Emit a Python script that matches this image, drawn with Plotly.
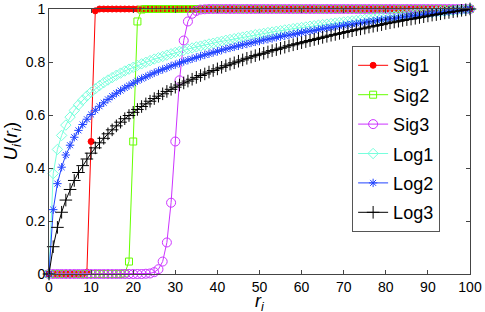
import plotly.graph_objects as go

r = list(range(0, 101))

sig1 = [0.0]*9 + [0.007, 0.5, 0.993] + [1.0]*89
sig2 = [0.0]*18 + [0.002, 0.047, 0.5, 0.953, 0.998] + [1.0]*78
sig3 = [0.0]*23 + [0.001, 0.002, 0.007, 0.018, 0.047, 0.119, 0.269, 0.5, 0.731,
                   0.881, 0.953, 0.982, 0.993, 0.998, 0.999] + [1.0]*63

log1 = [0.0, 0.379, 0.470, 0.523, 0.562, 0.592, 0.617, 0.638, 0.656, 0.672,
        0.686, 0.699, 0.711, 0.722, 0.732, 0.741, 0.750, 0.758, 0.766, 0.773,
        0.780, 0.787, 0.793, 0.799, 0.805, 0.811, 0.816, 0.821, 0.826, 0.831,
        0.836, 0.840, 0.844, 0.849, 0.853, 0.857, 0.860, 0.864, 0.868, 0.871,
        0.875, 0.878, 0.882, 0.885, 0.888, 0.891, 0.894, 0.897, 0.900, 0.903,
        0.905, 0.908, 0.911, 0.913, 0.916, 0.918, 0.921, 0.923, 0.926, 0.928,
        0.930, 0.932, 0.935, 0.937, 0.939, 0.941, 0.943, 0.945, 0.947, 0.949,
        0.951, 0.953, 0.955, 0.957, 0.959, 0.961, 0.963, 0.964, 0.966, 0.968,
        0.970, 0.971, 0.973, 0.975, 0.976, 0.978, 0.979, 0.981, 0.983, 0.984,
        0.986, 0.987, 0.989, 0.990, 0.992, 0.993, 0.994, 0.996, 0.997, 0.999,
        1.000]
log2 = [0.0, 0.243, 0.341, 0.403, 0.449, 0.486, 0.516, 0.542, 0.564, 0.584,
        0.602, 0.618, 0.633, 0.646, 0.659, 0.671, 0.682, 0.692, 0.702, 0.711,
        0.720, 0.729, 0.737, 0.744, 0.752, 0.759, 0.766, 0.772, 0.778, 0.785,
        0.790, 0.796, 0.802, 0.807, 0.812, 0.817, 0.822, 0.827, 0.831, 0.836,
        0.840, 0.845, 0.849, 0.853, 0.857, 0.861, 0.865, 0.868, 0.872, 0.876,
        0.879, 0.883, 0.886, 0.889, 0.893, 0.896, 0.899, 0.902, 0.905, 0.908,
        0.911, 0.914, 0.917, 0.919, 0.922, 0.925, 0.928, 0.930, 0.933, 0.935,
        0.938, 0.940, 0.943, 0.945, 0.947, 0.950, 0.952, 0.954, 0.957, 0.959,
        0.961, 0.963, 0.965, 0.967, 0.970, 0.972, 0.974, 0.976, 0.978, 0.980,
        0.982, 0.984, 0.985, 0.987, 0.989, 0.991, 0.993, 0.995, 0.996, 0.998,
        1.000]
log3 = [0.0, 0.103, 0.176, 0.233, 0.279, 0.319, 0.353, 0.383, 0.409, 0.434,
        0.456, 0.476, 0.495, 0.512, 0.529, 0.544, 0.559, 0.573, 0.586, 0.598,
        0.610, 0.621, 0.632, 0.642, 0.652, 0.662, 0.671, 0.680, 0.689, 0.697,
        0.705, 0.713, 0.721, 0.728, 0.735, 0.742, 0.749, 0.755, 0.762, 0.768,
        0.774, 0.780, 0.786, 0.792, 0.797, 0.803, 0.808, 0.814, 0.819, 0.824,
        0.829, 0.833, 0.838, 0.843, 0.847, 0.852, 0.856, 0.861, 0.865, 0.869,
        0.873, 0.877, 0.881, 0.885, 0.889, 0.893, 0.897, 0.901, 0.904, 0.908,
        0.911, 0.915, 0.918, 0.922, 0.925, 0.928, 0.932, 0.935, 0.938, 0.941,
        0.945, 0.948, 0.951, 0.954, 0.957, 0.960, 0.962, 0.965, 0.968, 0.971,
        0.974, 0.977, 0.979, 0.982, 0.985, 0.987, 0.990, 0.992, 0.995, 0.997,
        1.000]

names = ["Sig1", "Sig2", "Sig3", "Log1", "Log2", "Log3"]
series = [sig1, sig2, sig3, log1, log2, log3]
colors = ["#ff0000", "#66ff00", "#cc33ff", "#77ffdd", "#2244ff", "#000000"]
symbols = ["circle", "square-open", "circle-open", "diamond-open", "asterisk-open", "cross-thin-open"]
sizes = [6, 7, 9, 8, 7, 9]

xticks = list(range(0, 101, 10))
yticks = [0, 0.2, 0.4, 0.6, 0.8, 1]
yticklabels = ["0", "0.2", "0.4", "0.6", "0.8", "1"]

fig = go.Figure()
for i, (n, s) in enumerate(zip(names, series)):
    fig.add_trace(go.Scatter(
        x=r, y=s, name=n, mode="lines+markers", legendgroup=n,
        line=dict(color=colors[i], width=1),
        marker=dict(symbol=symbols[i], size=sizes[i], color=colors[i],
                    line=dict(color=colors[i], width=1)),
        cliponaxis=False,
    ))

face = "Liberation Sans"
fig.update_layout(
    template="none",
    width=485, height=312,
    margin=dict(l=49, r=15, t=9, b=38),
    plot_bgcolor="white", paper_bgcolor="white",
    font=dict(family=face, size=14, color="black"),
    showlegend=True,
    legend=dict(x=0.72, y=0.86, xanchor="left", yanchor="top",
                bgcolor="white", bordercolor="#555", borderwidth=1,
                font=dict(size=18, family=face),
                tracegroupgap=3, itemwidth=30),
    xaxis=dict(range=[0, 100], tickvals=xticks, ticks="inside", ticklen=4,
               showline=True, linecolor="#444", linewidth=1, mirror="ticks",
               showgrid=False, zeroline=False, automargin=False,
               tickfont=dict(family=face, size=14)),
    yaxis=dict(range=[0, 1], tickvals=yticks, ticktext=yticklabels,
               ticks="inside", ticklen=4,
               showline=True, linecolor="#444", linewidth=1, mirror="ticks",
               showgrid=False, zeroline=False, automargin=False,
               tickfont=dict(family=face, size=14)),
    annotations=[
        dict(text="<i>r<sub>i</sub></i>", xref="paper", yref="paper",
             x=0.5, y=-0.058, xanchor="center", yanchor="top", showarrow=False,
             font=dict(family=face, size=18)),
        dict(text="<i>U<sub>i</sub></i>(<i>r<sub>i</sub></i>)", xref="paper", yref="paper",
             x=-0.09, y=0.5, xanchor="center", yanchor="middle", showarrow=False,
             textangle=-90, font=dict(family=face, size=19)),
    ],
)

fig.write_html("out.html", config={"displayModeBar": False},
               post_script="document.body.style.margin='0px';")
